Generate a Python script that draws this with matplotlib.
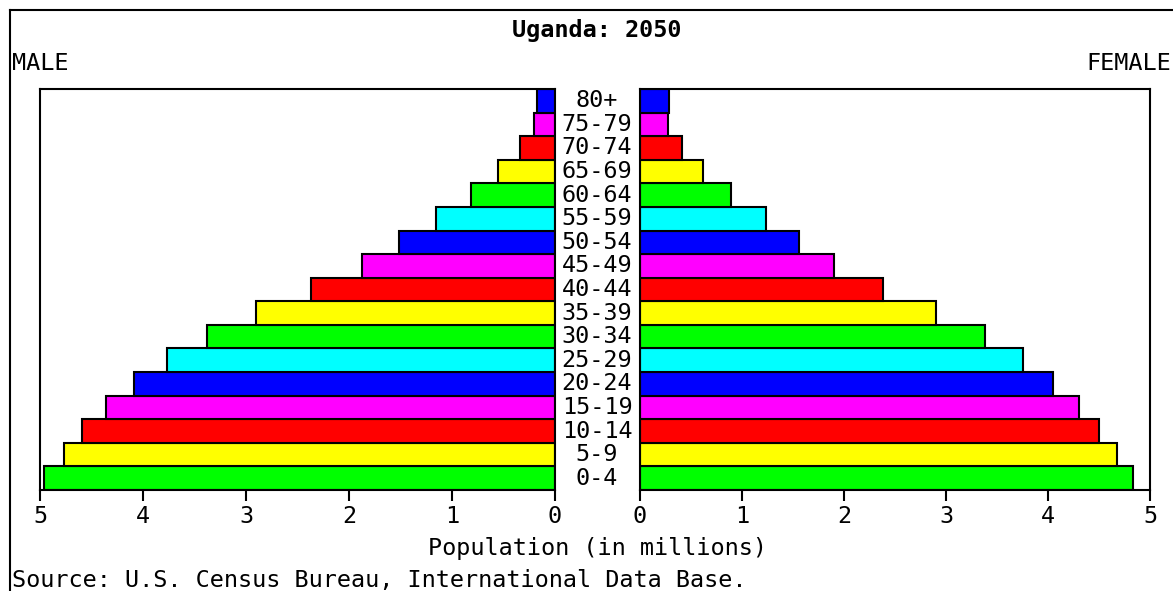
import matplotlib
matplotlib.use("Agg")
import matplotlib.pyplot as plt
from matplotlib.lines import Line2D
from matplotlib.transforms import blended_transform_factory

age_groups = ["0-4", "5-9", "10-14", "15-19", "20-24", "25-29", "30-34", "35-39",
              "40-44", "45-49", "50-54", "55-59", "60-64", "65-69", "70-74", "75-79", "80+"]
male = [4.96, 4.77, 4.59, 4.36, 4.09, 3.77, 3.38, 2.90, 2.37, 1.87, 1.51, 1.16, 0.82, 0.55, 0.34, 0.20, 0.17]
female = [4.83, 4.68, 4.50, 4.30, 4.05, 3.75, 3.38, 2.90, 2.38, 1.90, 1.56, 1.24, 0.89, 0.62, 0.41, 0.27, 0.28]
bar_colors = ["#00ff00", "#ffff00", "#ff0000", "#ff00ff", "#0000ff", "#00ffff",
              "#00ff00", "#ffff00", "#ff0000", "#ff00ff", "#0000ff", "#00ffff",
              "#00ff00", "#ffff00", "#ff0000", "#ff00ff", "#0000ff"]
ticks = [0, 1, 2, 3, 4, 5]
title = "Uganda: 2050"

W, H = 1173, 591
fig = plt.figure(figsize=(W / 100, H / 100), dpi=100)
font = "DejaVu Sans Mono"
fs = 16.9

def px_axes(x0, y0, x1, y1):
    return fig.add_axes([x0 / W, 1 - y1 / H, (x1 - x0) / W, (y1 - y0) / H])

axL = px_axes(40, 89, 555, 490)
axR = px_axes(640, 89, 1150, 490)

ypos = list(range(len(age_groups)))
for ax, vals in ((axL, male), (axR, female)):
    ax.barh(ypos, vals, height=1.0, color=bar_colors, edgecolor="black", linewidth=1.5)
    ax.set_ylim(-0.5, len(age_groups) - 0.5)
    ax.set_yticks([])
    ax.set_xticks(ticks)
    ax.set_xticklabels([str(t) for t in ticks], fontfamily=font, fontsize=fs)
    ax.tick_params(axis="x", direction="out", length=8, width=1.5, pad=3)
    for s in ax.spines.values():
        s.set_linewidth(1.5)

axL.set_xlim(5, 0)
axR.set_xlim(0, 5)

tr = blended_transform_factory(fig.transFigure, axL.transData)
for i, lab in enumerate(age_groups):
    axL.text(597 / W, i, lab, transform=tr, ha="center", va="center",
             fontfamily=font, fontsize=fs, clip_on=False)

fig.text(597 / W, 1 - 31 / H, title, ha="center", va="center",
         fontfamily=font, fontsize=fs, fontweight="bold")
fig.text(12 / W, 1 - 63 / H, "MALE", ha="left", va="center", fontfamily=font, fontsize=fs)
fig.text(1171 / W, 1 - 63 / H, "FEMALE", ha="right", va="center", fontfamily=font, fontsize=fs)
fig.text(597 / W, 1 - 548 / H, "Population (in millions)", ha="center", va="center",
         fontfamily=font, fontsize=fs)
fig.text(12 / W, 1 - 580 / H, "Source: U.S. Census Bureau, International Data Base.",
         ha="left", va="center", fontfamily=font, fontsize=fs)

fig.add_artist(Line2D([10 / W, 1], [1 - 10 / H, 1 - 10 / H], color="black", linewidth=1.5,
                      transform=fig.transFigure))
fig.add_artist(Line2D([10 / W, 10 / W], [1 - 10 / H, 0], color="black", linewidth=1.5,
                      transform=fig.transFigure))

fig.savefig("out.png", dpi=100)
